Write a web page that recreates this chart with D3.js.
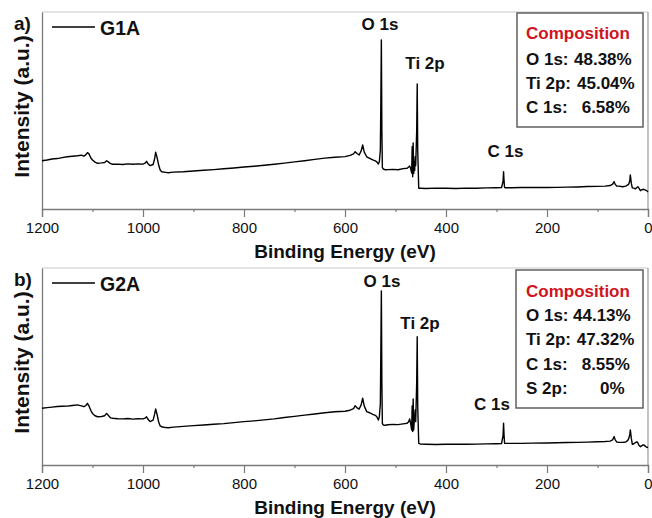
<!DOCTYPE html>
<html>
<head>
<meta charset="utf-8">
<script src="https://cdn.jsdelivr.net/npm/d3@7"></script>
<style>
  html, body { margin: 0; padding: 0; background: #fff; }
  svg { display: block; font-family: "Liberation Sans", Arial, sans-serif; }
</style>
</head>
<body>
<svg id="chart" width="652" height="518"></svg>
<script>
// ---------- DATA ----------
const panelLetters = ["a)", "b)"];
const sampleNames = ["G1A", "G2A"];
const xTicksMajor = [1200, 1000, 800, 600, 400, 200, 0];
const xTicksMinor = [1100, 900, 700, 500, 300, 100];
const peakNames = ["O 1s", "Ti 2p", "C 1s"];

// Shared binding-energy grid (eV)
const energy = [1200,1190,1180,1170,1160,1150,1140,1130,1122,1117,1113,1110,1107,1103,1100,1095,1090,1082,1076,1072,1068,1064,1060,1050,1040,1030,1020,1010,1000,995,993,990,986,980,977,975,972,969,966,963,955,950,940,920,900,880,860,840,820,800,780,760,740,720,700,680,660,640,620,600,590,583,580,576,572,568,565,562,557,550,545,540,537,534,532,530,529,528,527,526,524,520,515,505,495,485,477,474,472,470,468,467,466,465,464,463,462,461,460,458,457,456,454,450,440,420,400,380,360,340,320,300,290,287,286,285,284,282,270,250,230,200,180,160,140,120,100,85,75,70,67,65,62,58,50,44,40,38,36,35,33,31,28,25,22,20,18,15,12,10,7,5,2,0];

// Panel a intensity (a.u.)
const intensityA = [24.5,24.9,25.4,25.6,26.1,26.5,26.8,27.0,27.3,26.8,27.6,28.6,28.0,25.8,24.9,23.8,23.2,23.4,23.6,24.5,23.8,23.0,22.7,22.8,22.6,22.9,22.7,22.9,22.8,23.4,24.2,23.0,22.0,22.6,25.5,28.8,26.0,22.3,19.8,18.9,18.6,18.4,18.7,18.9,19.3,19.7,20.0,20.4,20.8,21.3,21.7,22.2,22.7,23.3,23.9,24.5,25.2,25.8,26.3,26.6,27.2,28.0,29.1,28.2,27.4,29.5,32.5,29.0,26.5,25.6,24.9,24.4,23.9,22.8,24.0,30.0,55.0,85.8,40.0,21.0,20.3,19.9,20.0,20.1,19.9,20.5,20.7,21.3,21.8,20.5,18.3,31.6,16.4,33.5,18.0,24.0,19.5,26.5,22.0,40.0,63.5,30.0,10.5,10.5,10.4,10.6,10.5,10.4,10.6,10.5,10.7,10.8,10.9,14.0,18.9,14.0,10.9,10.8,10.8,10.9,11.0,10.9,11.0,11.1,11.2,11.4,11.5,11.6,11.9,12.6,13.9,12.5,11.7,11.6,11.3,11.6,12.2,12.7,14.5,17.3,13.0,10.7,10.6,10.2,10.9,11.3,10.6,9.3,9.8,10.0,9.8,9.6,9.2,8.6];

// Panel b intensity (a.u.)
const intensityB = [28.8,29.1,29.4,29.7,29.8,29.9,30.2,30.5,30.0,29.6,30.2,31.3,30.0,27.5,26.2,25.0,24.5,24.6,25.0,26.2,25.0,23.9,23.7,23.5,23.4,23.6,23.3,23.5,23.4,23.9,24.5,23.2,22.0,22.8,25.8,28.4,25.5,21.8,19.8,19.4,19.0,18.9,19.2,19.6,20.0,20.3,20.7,21.0,21.5,22.0,22.4,22.9,23.4,24.1,24.7,25.3,25.9,26.5,27.0,27.3,27.8,28.6,30.1,29.0,28.4,30.5,33.9,30.0,27.1,26.4,25.7,25.2,24.5,22.8,24.5,31.0,58.0,88.3,42.0,21.0,20.3,20.2,20.4,20.6,20.5,20.9,21.2,22.0,23.4,21.0,17.8,30.0,17.0,33.5,17.8,22.0,23.7,28.0,22.0,42.0,65.1,30.0,11.0,10.6,10.5,10.4,10.5,10.6,10.5,10.6,10.7,10.8,10.9,15.0,21.2,15.0,11.0,11.0,11.0,11.0,11.1,11.2,11.3,11.4,11.5,11.6,11.8,11.9,12.1,12.8,14.4,12.8,11.7,11.5,11.5,11.7,12.5,13.5,15.5,17.8,13.5,10.5,10.8,11.4,11.8,11.2,10.0,9.3,9.8,10.2,10.0,9.4,9.0,8.8];

// Composition tables
const compLabelsA = ["O 1s:", "Ti 2p:", "C 1s:"];
const compValuesA = ["48.38%", "45.04%", "6.58%"];
const compLabelsB = ["O 1s:", "Ti 2p:", "C 1s:", "S 2p:"];
const compValuesB = ["44.13%", "47.32%", "8.55%", "0%"];

// ---------- DRAWING ----------
const svg = d3.select("#chart");
const xLeft = 42, xRight = 648;
const x = d3.scaleLinear().domain([1200, 0]).range([xLeft, xRight]);

const panels = [
  { top: 12, bottom: 209, I: intensityA, letter: panelLetters[0], name: sampleNames[0],
    labels: compLabelsA, values: compValuesA,
    box: { x: 517, y: 13, w: 126, h: 114 }, titleY: 39, rowY0: 65, rowStep: 24,
    peakPos: [[380, 29.5], [425, 69], [505.5, 157]],
    valueX: [574, 577, 581.7] },
  { top: 268, bottom: 465, I: intensityB, letter: panelLetters[1], name: sampleNames[1],
    labels: compLabelsB, values: compValuesB,
    box: { x: 516, y: 270, w: 127, h: 138 }, titleY: 297, rowY0: 321, rowStep: 24.4,
    peakPos: [[382, 286.5], [420, 328.5], [492, 410]],
    valueX: [573, 576.7, 581.7, 600] }
];

panels.forEach(p => {
  const y = d3.scaleLinear().domain([0, 100]).range([p.bottom, p.top]);
  const g = svg.append("g");

  // frame (top/right lighter)
  g.append("line").attr("x1", xLeft).attr("x2", xRight).attr("y1", p.top).attr("y2", p.top)
    .attr("stroke", "#c8c8c8").attr("stroke-width", 1.2);
  g.append("line").attr("x1", xRight).attr("x2", xRight).attr("y1", p.top).attr("y2", p.bottom)
    .attr("stroke", "#9a9a9a").attr("stroke-width", 1.2);

  // x axis with major/minor ticks
  const axMajor = d3.axisBottom(x).tickValues(xTicksMajor).tickSize(8).tickFormat(d3.format("d"));
  const axG = g.append("g").attr("transform", `translate(0,${p.bottom})`).call(axMajor);
  axG.select(".domain").attr("stroke", "#7a7a7a").attr("stroke-width", 1.3);
  axG.selectAll(".tick line").attr("stroke", "#7a7a7a").attr("stroke-width", 1.2);
  axG.selectAll(".tick text").attr("font-size", 15).attr("fill", "#111")
    .attr("font-family", "Liberation Sans, Arial, sans-serif").attr("dy", null).attr("y", 24);
  const axMinor = d3.axisBottom(x).tickValues(xTicksMinor).tickSize(3).tickFormat("");
  const mG = g.append("g").attr("transform", `translate(0,${p.bottom})`).call(axMinor);
  mG.select(".domain").remove();
  mG.selectAll(".tick line").attr("stroke", "#7a7a7a").attr("stroke-width", 1.2);

  // y axis line (no ticks)
  const ay = d3.axisLeft(y).tickValues([]).tickSizeOuter(0);
  const ayG = g.append("g").attr("transform", `translate(${xLeft},0)`).call(ay);
  ayG.select(".domain").attr("stroke", "#7a7a7a").attr("stroke-width", 1.3);

  // spectrum
  const data = energy.map((e, i) => [e, p.I[i]]);
  g.append("path").datum(data)
    .attr("fill", "none").attr("stroke", "#000").attr("stroke-width", 1.4)
    .attr("stroke-linejoin", "round")
    .attr("d", d3.line().x(d => x(d[0])).y(d => y(d[1])));

  // axis titles
  g.append("text").attr("x", (xLeft + xRight) / 2).attr("y", p.bottom + 49)
    .attr("text-anchor", "middle").attr("font-weight", "bold").attr("font-size", 19)
    .attr("fill", "#111").text("Binding Energy (eV)");
  g.append("text").attr("transform", `translate(29,${(p.top + p.bottom) / 2 - 4}) rotate(-90)`)
    .attr("text-anchor", "middle").attr("font-weight", "bold").attr("font-size", 21)
    .attr("fill", "#111").text("Intensity (a.u.)");

  // panel letter
  g.append("text").attr("x", 14).attr("y", p.top + 18).attr("font-weight", "bold")
    .attr("font-size", 19).attr("fill", "#111").text(p.letter);

  // legend
  g.append("line").attr("x1", 52).attr("x2", 95).attr("y1", p.top + 15).attr("y2", p.top + 15)
    .attr("stroke", "#000").attr("stroke-width", 1.4);
  g.append("text").attr("x", 100).attr("y", p.top + 22.5).attr("font-weight", "bold")
    .attr("font-size", 19.5).attr("fill", "#111").text(p.name);

  // peak labels
  peakNames.forEach((n, i) => {
    g.append("text").attr("x", p.peakPos[i][0]).attr("y", p.peakPos[i][1])
      .attr("text-anchor", "middle").attr("font-weight", "bold").attr("font-size", 17)
      .attr("fill", "#111").text(n);
  });

  // composition box
  g.append("rect").attr("x", p.box.x).attr("y", p.box.y).attr("width", p.box.w).attr("height", p.box.h)
    .attr("fill", "#fff").attr("stroke", "#555").attr("stroke-width", 1.4);
  g.append("text").attr("x", 526).attr("y", p.titleY).attr("font-weight", "bold")
    .attr("font-size", 17).attr("fill", "#d0141e").text("Composition");
  p.labels.forEach((lab, i) => {
    const ty = p.rowY0 + i * p.rowStep;
    g.append("text").attr("x", 526).attr("y", ty).attr("font-weight", "bold")
      .attr("font-size", 17).attr("fill", "#111").text(lab);
    g.append("text").attr("x", p.valueX[i]).attr("y", ty).attr("font-weight", "bold")
      .attr("font-size", 17).attr("fill", "#111").text(p.values[i]);
  });
});
</script>
</body>
</html>
